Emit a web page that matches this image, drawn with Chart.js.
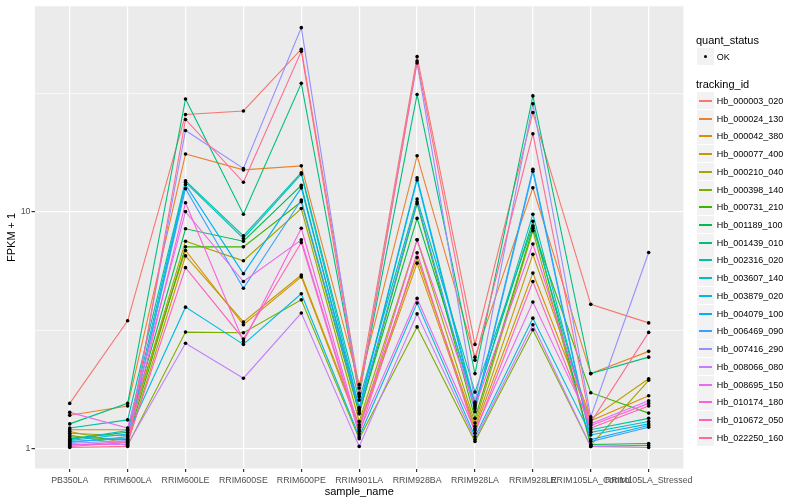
<!DOCTYPE html>
<html>
<head>
<meta charset="utf-8">
<title>FPKM + 1 por amostra</title>
<script src="https://cdn.jsdelivr.net/npm/chart.js@4.4.1/dist/chart.umd.min.js"></script>
<style>
  html, body { margin: 0; padding: 0; background: #fff; }
  #wrap { position: relative; width: 800px; height: 500px; font-family: "Liberation Sans", Arial, sans-serif; }
  #grafico { position: absolute; left: 0; top: 0; }
  .leg-titulo { position: absolute; left: 696px; font-size: 11px; line-height: 13px; color: #000; }
  .leg-item { position: absolute; left: 697px; height: 17px; display: flex; align-items: center; }
  .leg-key { position: relative; width: 17px; height: 17px; background: #F2F2F2; }
  .leg-key .linha { position: absolute; left: 2px; width: 13px; top: 8px; height: 1.5px; }
  .leg-key .ponto { position: absolute; left: 6.7px; top: 6.7px; width: 3.6px; height: 3.6px; border-radius: 50%; background: #000; }
  .leg-texto { margin-left: 2.7px; font-size: 9px; color: #000; white-space: nowrap; }
</style>
</head>
<body>
<div id="wrap">
  <canvas id="grafico" width="800" height="500"></canvas>
  <div id="legenda"></div>
</div>
<script>
// =========================
// DADOS
// =========================
const sampleNames = ["PB350LA", "RRIM600LA", "RRIM600LE", "RRIM600SE", "RRIM600PE", "RRIM901LA",
  "RRIM928BA", "RRIM928LA", "RRIM928LE", "RRIM105LA_Control", "RRIM105LA_Stressed"];

const trackingIds = ["Hb_000003_020", "Hb_000024_130", "Hb_000042_380", "Hb_000077_400", "Hb_000210_040",
  "Hb_000398_140", "Hb_000731_210", "Hb_001189_100", "Hb_001439_010", "Hb_002316_020",
  "Hb_003607_140", "Hb_003879_020", "Hb_004079_100", "Hb_006469_090", "Hb_007416_290",
  "Hb_008066_080", "Hb_008695_150", "Hb_010174_180", "Hb_010672_050", "Hb_022250_160"];

// FPKM + 1, uma lista por tracking_id, na ordem de sampleNames
const hb_000003_020 = [1.55, 3.46, 25.7, 26.6, 48.5, 1.80, 45.1, 2.75, 26.2, 4.06, 3.39];
const hb_000024_130 = [1.38, 1.51, 17.5, 15.0, 15.6, 1.86, 17.2, 2.43, 12.6, 2.07, 2.57];
const hb_000042_380 = [1.20, 1.20, 6.85, 3.33, 5.3, 1.23, 6.06, 1.21, 5.5, 1.31, 1.67];
const hb_000077_400 = [1.18, 1.05, 6.5, 3.42, 5.4, 1.26, 6.4, 1.24, 6.6, 1.33, 1.97];
const hb_000210_040 = [1.16, 1.13, 7.5, 6.2, 10.3, 1.30, 7.6, 1.28, 8.3, 1.03, 1.94];
const hb_000398_140 = [1.14, 1.03, 3.1, 3.08, 4.24, 1.10, 3.26, 1.07, 3.17, 1.02, 1.03];
const hb_000731_210 = [1.12, 1.09, 7.1, 7.1, 11.0, 1.40, 10.8, 1.34, 8.5, 1.72, 1.41];
const hb_001189_100 = [1.10, 1.17, 8.46, 7.5, 12.9, 1.42, 9.36, 1.55, 9.1, 1.04, 1.05];
const hb_001439_010 = [1.27, 1.55, 29.9, 9.75, 34.8, 1.71, 31.2, 2.07, 30.8, 2.07, 2.43];
const hb_002316_020 = [1.22, 1.32, 13.5, 7.9, 14.6, 1.60, 11.3, 1.73, 8.7, 1.20, 1.34];
const hb_003607_140 = [1.09, 1.19, 13.3, 7.7, 14.4, 1.49, 13.9, 1.52, 9.75, 1.17, 1.30];
const hb_003879_020 = [1.08, 1.15, 3.95, 2.75, 4.5, 1.12, 4.11, 1.12, 3.55, 1.14, 1.27];
const hb_004079_100 = [1.07, 1.10, 13.0, 5.47, 12.6, 1.47, 13.6, 1.47, 15.1, 1.09, 1.25];
const hb_006469_090 = [1.06, 1.12, 12.5, 4.75, 11.2, 1.45, 11.0, 1.43, 14.8, 1.07, 1.23];
const hb_007416_290 = [1.05, 1.08, 22.0, 15.2, 59.8, 1.68, 42.4, 1.57, 28.5, 1.36, 6.72];
const hb_008066_080 = [1.04, 1.04, 2.78, 1.98, 3.73, 1.02, 3.7, 1.09, 3.33, 1.02, 1.01];
const hb_008695_150 = [1.42, 1.22, 10.0, 5.07, 7.6, 1.18, 4.3, 1.19, 4.15, 1.27, 1.59];
const hb_010174_180 = [1.03, 1.07, 10.9, 2.83, 8.5, 1.20, 7.6, 1.50, 7.3, 1.25, 1.55];
const hb_010672_050 = [1.02, 1.06, 5.8, 2.9, 7.4, 1.15, 6.7, 1.16, 5.07, 1.22, 1.51];
const hb_022250_160 = [1.01, 1.02, 24.5, 13.3, 47.5, 1.65, 43.2, 2.36, 21.3, 1.29, 3.09];

const fpkmSeries = [hb_000003_020, hb_000024_130, hb_000042_380, hb_000077_400, hb_000210_040,
  hb_000398_140, hb_000731_210, hb_001189_100, hb_001439_010, hb_002316_020,
  hb_003607_140, hb_003879_020, hb_004079_100, hb_006469_090, hb_007416_290,
  hb_008066_080, hb_008695_150, hb_010174_180, hb_010672_050, hb_022250_160];

const yBreaks = [1, 10];
const yMinorBreaks = [3.162, 31.62];

// paleta padrão do ggplot (hue) para 20 grupos
const cores = ["#F8766D", "#EA8331", "#D89000", "#C09B00", "#A3A500", "#7CAE00", "#39B600", "#00BB4E",
  "#00BF7D", "#00C1A3", "#00BFC4", "#00BAE0", "#00B0F6", "#35A2FF", "#9590FF", "#C77CFF",
  "#E76BF3", "#FA62DB", "#FF62BC", "#FF6C91"];

const fonte = '"Liberation Sans", Arial, sans-serif';
Chart.defaults.font.family = fonte;

// =========================
// DATASETS
// =========================
const paraPontos = vals => vals.map((v, i) => ({ x: i, y: v }));

// ggplot desenha o último grupo por cima; no Chart.js o índice 0 fica por cima
const linhas = fpkmSeries.map((vals, i) => ({
  label: trackingIds[i],
  data: paraPontos(vals),
  borderColor: cores[i],
  borderWidth: 1.1,
  pointRadius: 0,
  tension: 0,
  fill: false,
  order: 1
})).reverse();

const pontos = {
  label: "OK",
  data: fpkmSeries.flatMap(paraPontos),
  showLine: false,
  pointRadius: 1.8,
  pointBackgroundColor: "#000",
  pointBorderWidth: 0,
  order: 0
};

// fundo cinza do painel
const fundoPainel = {
  id: "fundoPainel",
  beforeDraw(chart) {
    const { ctx, chartArea: a } = chart;
    ctx.save();
    ctx.fillStyle = "#EBEBEB";
    ctx.fillRect(a.left, a.top, a.right - a.left, a.bottom - a.top);
    ctx.restore();
  }
};

const ehMaior = v => yBreaks.includes(v);

new Chart(document.getElementById("grafico"), {
  type: "line",
  data: { datasets: [...linhas, pontos] },
  plugins: [fundoPainel],
  options: {
    responsive: false,
    animation: false,
    devicePixelRatio: 1,
    layout: { padding: { left: 0, top: 5, right: 116.6, bottom: 0 } },
    plugins: { legend: { display: false }, tooltip: { enabled: false } },
    scales: {
      x: {
        type: "linear",
        min: -0.6,
        max: sampleNames.length - 0.4,
        afterBuildTicks: s => { s.ticks = sampleNames.map((_, i) => ({ value: i })); },
        afterFit: s => { s.height = 31.5; },
        ticks: {
          callback: v => sampleNames[v],
          autoSkip: false, maxRotation: 0, minRotation: 0,
          color: "#4D4D4D", font: { size: 8.8 }, padding: 3
        },
        grid: { color: "#fff", lineWidth: 1.2, tickColor: "#333", tickLength: 3.5 },
        border: { display: false },
        title: { display: true, text: "sample_name", color: "#000", font: { size: 11 }, padding: { top: 0, bottom: 1.4 } }
      },
      y: {
        type: "logarithmic",
        min: 0.823,
        max: 73.6,
        afterBuildTicks: s => {
          s.ticks = [...yBreaks, ...yMinorBreaks].sort((a, b) => a - b).map(v => ({ value: v }));
        },
        afterFit: s => { s.width = 35; },
        ticks: {
          callback: v => ehMaior(v) ? String(v) : "",
          color: "#4D4D4D", font: { size: 8.8 }, padding: 1
        },
        grid: {
          color: "#fff",
          lineWidth: c => ehMaior(c.tick.value) ? 1.2 : 0.6,
          tickColor: c => ehMaior(c.tick.value) ? "#333" : "rgba(0,0,0,0)",
          tickLength: 3.5
        },
        border: { display: false },
        title: { display: true, text: "FPKM + 1", color: "#000", font: { size: 11 }, padding: { top: 5.4, bottom: 0 } }
      }
    }
  }
});

// =========================
// LEGENDA
// =========================
const legenda = document.getElementById("legenda");

legenda.innerHTML += `<div class="leg-titulo" style="top:34px">quant_status</div>`;
legenda.innerHTML += `
  <div class="leg-item" style="top:48px">
    <div class="leg-key"><span class="ponto"></span></div>
    <span class="leg-texto">OK</span>
  </div>`;
legenda.innerHTML += `<div class="leg-titulo" style="top:78px">tracking_id</div>`;

trackingIds.forEach((id, i) => {
  const topo = Math.round(92 + i * 17.72);
  legenda.innerHTML += `
    <div class="leg-item" style="top:${topo}px">
      <div class="leg-key"><span class="linha" style="background:${cores[i]}"></span></div>
      <span class="leg-texto">${id}</span>
    </div>`;
});
</script>
</body>
</html>
